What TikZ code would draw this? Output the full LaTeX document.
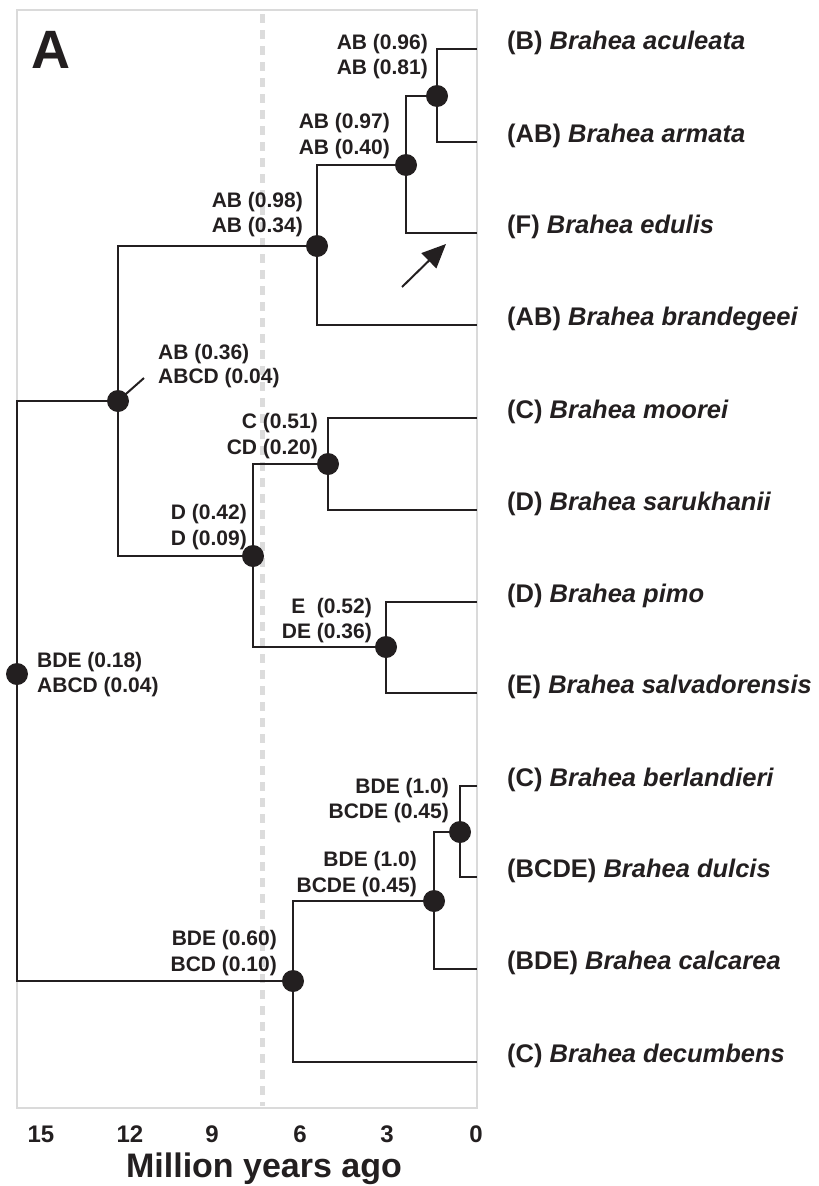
\documentclass[tikz,border=0pt]{standalone}
\usepackage{fontspec}
\setmainfont{Liberation Sans}
\usetikzlibrary{arrows.meta}
\definecolor{ink}{HTML}{231F20}
\definecolor{framegray}{HTML}{DADADA}
\definecolor{dashgray}{HTML}{DCDCDC}
\tikzset{
  treeline/.style={line width=2pt, draw=ink, line join=miter},
  dotnode/.style={circle, fill=ink, inner sep=0pt, minimum size=22pt},
  nlabR/.style={anchor=base east, inner sep=0pt, text=ink, font=\fontsize{21}{25}\selectfont\bfseries},
  nlabL/.style={anchor=base west, inner sep=0pt, text=ink, font=\fontsize{21}{25}\selectfont\bfseries},
  splab/.style={anchor=base west, inner sep=0pt, text=ink, font=\fontsize{25.5}{30}\selectfont\bfseries},
  ticklab/.style={anchor=base, inner sep=0pt, text=ink, font=\fontsize{24}{28}\selectfont\bfseries},
  framebox/.style={draw=framegray, line width=2.5pt},
  dashline/.style={draw=dashgray, line width=5pt, dash pattern=on 9pt off 7pt}
}
\begin{document}
\begin{tikzpicture}[x=1pt,y=-1pt]
\useasboundingbox (0,0) rectangle (819,1186);
% frame and dashed line
\draw[framebox] (17,10) rectangle (477,1108);
\coordinate (dtop) at (262,14);
\coordinate (dbot) at (262,1106);
\draw[dashline] (dtop) -- (dbot);
% tips
\coordinate (t1) at (477,49);
\coordinate (t2) at (477,142);
\coordinate (t3) at (477,233);
\coordinate (t4) at (477,325);
\coordinate (t5) at (477,418);
\coordinate (t6) at (477,510);
\coordinate (t7) at (477,602);
\coordinate (t8) at (477,693);
\coordinate (t9) at (477,786);
\coordinate (t10) at (477,877);
\coordinate (t11) at (477,969);
\coordinate (t12) at (477,1062);
% internal node positions
\coordinate (a) at (437,96);
\coordinate (b) at (406,165);
\coordinate (c) at (317,246);
\coordinate (d) at (118,401);
\coordinate (e) at (328,464);
\coordinate (f) at (386,647);
\coordinate (g) at (253,556);
\coordinate (h) at (460,832);
\coordinate (i) at (434,901);
\coordinate (j) at (293,981);
\coordinate (r) at (17,674);
% branches
\draw[treeline] (t1) -| (a) |- (t2);
\draw[treeline] (a) -| (b) |- (t3);
\draw[treeline] (b) -| (c) |- (t4);
\draw[treeline] (t5) -| (e) |- (t6);
\draw[treeline] (t7) -| (f) |- (t8);
\draw[treeline] (e) -| (g) |- (f);
\draw[treeline] (c) -| (d) |- (g);
\draw[treeline] (t9) -| (h) |- (t10);
\draw[treeline] (h) -| (i) |- (t11);
\draw[treeline] (i) -| (j) |- (t12);
\draw[treeline] (d) -| (r) |- (j);
% leader line
\coordinate (dlead) at (144,378);
\draw[treeline] (d) -- (dlead);
% dots
\node[dotnode] (na) at (a) {};
\node[dotnode] (nb) at (b) {};
\node[dotnode] (nc) at (c) {};
\node[dotnode] (nd) at (d) {};
\node[dotnode] (ne) at (e) {};
\node[dotnode] (nf) at (f) {};
\node[dotnode] (ng) at (g) {};
\node[dotnode] (nh) at (h) {};
\node[dotnode] (ni) at (i) {};
\node[dotnode] (nj) at (j) {};
\node[dotnode] (nr) at (r) {};
% node labels
\node[nlabR] (la1) at (428,49) {AB (0.96)};
\node[nlabR] (la2) at (428,74) {AB (0.81)};
\node[nlabR] (lb1) at (390,128) {AB (0.97)};
\node[nlabR] (lb2) at (390,154) {AB (0.40)};
\node[nlabR] (lc1) at (303,207) {AB (0.98)};
\node[nlabR] (lc2) at (303,232) {AB (0.34)};
\node[nlabL] (ld1) at (158,359) {AB (0.36)};
\node[nlabL] (ld2) at (158,383) {ABCD (0.04)};
\node[nlabR] (le1) at (318,428) {C (0.51)};
\node[nlabR] (le2) at (318,454) {CD (0.20)};
\node[nlabR] (lg1) at (247,519) {D (0.42)};
\node[nlabR] (lg2) at (247,545) {D (0.09)};
\node[nlabR] (lf1) at (372,613) {E\ \ (0.52)};
\node[nlabR] (lf2) at (372,638) {DE (0.36)};
\node[nlabL] (lr1) at (37,667) {BDE (0.18)};
\node[nlabL] (lr2) at (37,692) {ABCD (0.04)};
\node[nlabR] (lh1) at (449,793) {BDE (1.0)};
\node[nlabR] (lh2) at (449,818) {BCDE (0.45)};
\node[nlabR] (li1) at (417,866) {BDE (1.0)};
\node[nlabR] (li2) at (417,892) {BCDE (0.45)};
\node[nlabR] (lj1) at (277,945) {BDE (0.60)};
\node[nlabR] (lj2) at (277,971) {BCD (0.10)};
% species labels
\node[splab] (s1) at (507,49) {(B) \textit{Brahea aculeata}};
\node[splab] (s2) at (507,142) {(AB) \textit{Brahea armata}};
\node[splab] (s3) at (507,233) {(F) \textit{Brahea edulis}};
\node[splab] (s4) at (507,325) {(AB) \textit{Brahea brandegeei}};
\node[splab] (s5) at (507,418) {(C) \textit{Brahea moorei}};
\node[splab] (s6) at (507,510) {(D) \textit{Brahea sarukhanii}};
\node[splab] (s7) at (507,602) {(D) \textit{Brahea pimo}};
\node[splab] (s8) at (507,693) {(E) \textit{Brahea salvadorensis}};
\node[splab] (s9) at (507,786) {(C) \textit{Brahea berlandieri}};
\node[splab] (s10) at (507,877) {(BCDE) \textit{Brahea dulcis}};
\node[splab] (s11) at (507,969) {(BDE) \textit{Brahea calcarea}};
\node[splab] (s12) at (507,1062) {(C) \textit{Brahea decumbens}};
% arrow
\coordinate (arS) at (402,287);
\coordinate (arE) at (446,244);
\draw[line width=2pt, draw=ink, -{Triangle[length=24pt,width=21pt]}] (arS) -- (arE);
% panel letter
\node[anchor=base west, inner sep=0pt, text=ink, font=\fontsize{54}{60}\selectfont\bfseries] (panel) at (31,68) {A};
% axis ticks
\node[ticklab] (x15) at (41,1142) {15};
\node[ticklab] (x12) at (130,1142) {12};
\node[ticklab] (x9) at (212,1142) {9};
\node[ticklab] (x6) at (300,1142) {6};
\node[ticklab] (x3) at (387,1142) {3};
\node[ticklab] (x0) at (476,1142) {0};
\node[anchor=base, inner sep=0pt, text=ink, font=\fontsize{34}{39}\selectfont\bfseries] (xtitle) at (264,1177) {Million years ago};
\end{tikzpicture}
\end{document}
